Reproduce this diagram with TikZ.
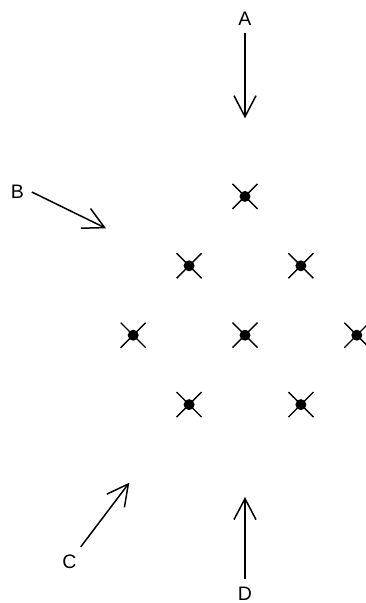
\documentclass[tikz,border=0pt]{standalone}
\usepackage{fontspec}
\setmainfont{Liberation Sans}
\usetikzlibrary{matrix,arrows.meta,shapes.misc}

\begin{document}
\begin{tikzpicture}[x=1pt,y=-1pt,ampersand replacement=\&,
  site/.style={cross out,draw,line width=1.4pt,minimum size=25pt,inner sep=0pt,outer sep=0pt,label={[dot]center:}},
  dot/.style={circle,fill,inner sep=0pt,minimum size=11pt},
  lbl/.style={inner sep=0pt,outer sep=8pt,font=\fontsize{19.5}{22}\selectfont},
  ray/.style={-{Straight Barb[length=21pt,width=22pt]},line width=1.5pt}]
  \useasboundingbox (0,0) rectangle (365,603);
  \matrix(m)[matrix of nodes,row sep=43pt,column sep=29.5pt] at (245,300.5)
  {  \& \& |[site]| {} \& \& \\
     \& |[site]| {} \& \& |[site]| {} \& \\
    |[site]| {} \& \& |[site]| {} \& \& |[site]| {} \\
     \& |[site]| {} \& \& |[site]| {} \& \\};
  \node[lbl] (A) at (245,18.3) {A};
  \node[lbl] (B) at (17.3,192) {B};
  \node[lbl] (C) at (69.5,561.7) {C};
  \node[lbl] (D) at (245,593.5) {D};
  \coordinate (a) at (245,118.3);
  \coordinate (b) at (106,228.3);
  \coordinate (c) at (129.3,482.7);
  \coordinate (d) at (245,497);
  \path[ray]
    (A) edge (a) (B.east) edge (b) (C) edge (c) (D) edge (d);
\end{tikzpicture}
\end{document}
